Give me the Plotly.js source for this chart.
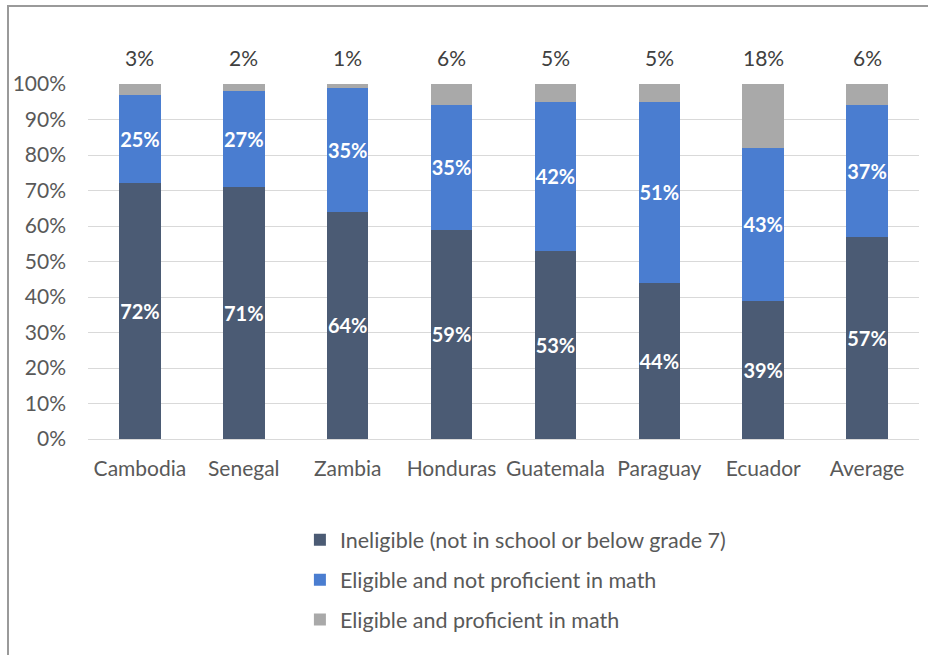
<!DOCTYPE html>
<html>
<head>
<meta charset="utf-8">
<script src="https://cdn.plot.ly/plotly-3.0.1.min.js"></script>
<style>
  html, body { margin: 0; padding: 0; background: #fff; }
  #wrap { position: relative; width: 928px; height: 655px; }
  #chart { width: 928px; height: 655px; }
  #bl { position: absolute; left: 7px; top: 5px; width: 2px; height: 650px; background: #9a9a9a; }
  #bt { position: absolute; left: 7px; top: 5px; width: 921px; height: 2px; background: #9a9a9a; }
</style>
</head>
<body>
<div id="wrap">
  <div id="chart"></div>
  <div id="bl"></div>
  <div id="bt"></div>
</div>
<script>
const categories = ["Cambodia", "Senegal", "Zambia", "Honduras", "Guatemala", "Paraguay", "Ecuador", "Average"];
const ineligible = [72, 71, 64, 59, 53, 44, 39, 57];
const notProficient = [25, 27, 35, 35, 42, 51, 43, 37];
const proficient = [3, 2, 1, 6, 5, 5, 18, 6];
const seriesNames = [
  "Ineligible (not in school or below grade 7)",
  "Eligible and not proficient in math",
  "Eligible and proficient in math"
];
const yTickVals = [0, 10, 20, 30, 40, 50, 60, 70, 80, 90, 100];

const FONT = "Lato, 'Open Sans', sans-serif";

function barTrace(vals, name, color, showText, group) {
  return {
    type: "bar",
    x: categories,
    y: vals,
    name: name,
    legendgroup: group,
    marker: { color: color, line: { width: 0 } },
    text: showText ? vals.map(v => v + "%") : null,
    textposition: showText ? "inside" : "none",
    insidetextanchor: "middle",
    textangle: 0,
    constraintext: "none",
    textfont: { family: FONT, size: 20, color: "#ffffff", weight: "bold" },
    hoverinfo: "x+y+name"
  };
}

const traces = [
  barTrace(ineligible, seriesNames[0], "#4b5b74", true, "g1"),
  barTrace(notProficient, seriesNames[1], "#4a7dd0", true, "g2"),
  barTrace(proficient, seriesNames[2], "#a9a9a9", false, "g3")
];

const annotations = categories.map((c, i) => ({
  x: c,
  y: ineligible[i] + notProficient[i] + proficient[i],
  xref: "x",
  yref: "y",
  text: proficient[i] + "%",
  showarrow: false,
  yanchor: "middle",
  yshift: 27,
  font: { family: FONT, size: 21, color: "#404040" }
}));

const layout = {
  width: 928,
  height: 655,
  margin: { l: 88, r: 9, t: 84, b: 216 },
  paper_bgcolor: "#ffffff",
  plot_bgcolor: "#ffffff",
  barmode: "stack",
  bargap: 0.6,
  font: { family: FONT, size: 21, color: "#595959" },
  xaxis: {
    type: "category",
    showgrid: false,
    showline: false,
    zeroline: false,
    ticks: "",
    ticklabelstandoff: 15,
    tickfont: { family: FONT, size: 21, color: "#595959" }
  },
  yaxis: {
    range: [0, 100],
    tickvals: yTickVals,
    ticktext: yTickVals.map(v => v + "%"),
    showgrid: true,
    gridcolor: "#d9d9d9",
    gridwidth: 1,
    zeroline: true,
    zerolinecolor: "#d9d9d9",
    zerolinewidth: 1,
    showline: false,
    ticks: "",
    ticklabelstandoff: 21,
    tickfont: { family: FONT, size: 21, color: "#595959" }
  },
  showlegend: true,
  legend: {
    orientation: "v",
    x: 0.255,
    xanchor: "left",
    y: -0.226,
    yanchor: "top",
    traceorder: "grouped",
    tracegroupgap: 9,
    font: { family: FONT, size: 21.5, color: "#595959" },
    bgcolor: "rgba(0,0,0,0)"
  },
  annotations: annotations
};

Plotly.newPlot("chart", traces, layout, { displayModeBar: false, staticPlot: true });
</script>
</body>
</html>
